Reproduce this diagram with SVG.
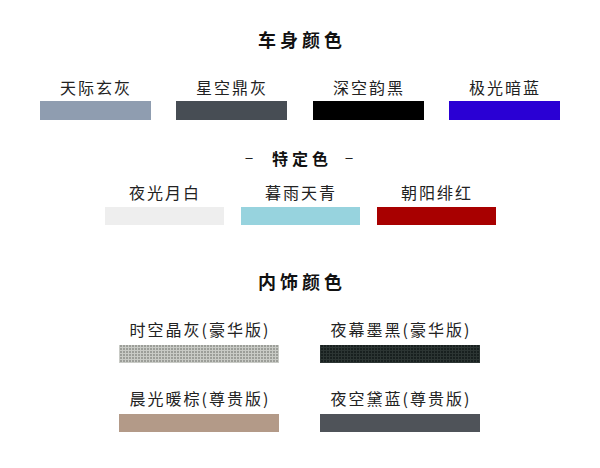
<svg xmlns="http://www.w3.org/2000/svg" width="600" height="468" viewBox="0 0 600 468">
<style>
.t{font-family:"Noto Sans CJK SC",sans-serif;font-size:18px;font-weight:bold;fill:#111;text-anchor:middle;letter-spacing:4px}
.l{font-family:"Noto Sans CJK SC",sans-serif;font-size:16px;fill:#222;text-anchor:middle;letter-spacing:2px}
</style>
<defs>
<pattern id="pg" width="3" height="3" patternUnits="userSpaceOnUse"><rect width="3" height="3" fill="#c9cbc6"/><rect width="2" height="2" fill="#9c9e99"/></pattern>
<pattern id="pd" width="3" height="3" patternUnits="userSpaceOnUse"><rect width="3" height="3" fill="#2c3533"/><rect width="2" height="2" fill="#18201f"/></pattern>
</defs>
<rect width="600" height="468" fill="#fff"/>
<text class="t" x="302" y="47">车身颜色</text>
<g id="c1"><text class="l" x="96" y="94">天际玄灰</text><rect x="40" y="101" width="111" height="19" fill="#8f9db0"/></g>
<g id="c2"><text class="l" x="232" y="94">星空鼎灰</text><rect x="176" y="101" width="111" height="19" fill="#474d54"/></g>
<g id="c3"><text class="l" x="369" y="94">深空韵黑</text><rect x="313" y="101" width="111" height="19" fill="#000"/></g>
<g id="c4"><text class="l" x="505" y="94">极光暗蓝</text><rect x="449" y="101" width="111" height="19" fill="#2a00d4"/></g>
<text class="t" x="302" y="165" style="font-size:16px">特定色</text>
<text class="l" x="250" y="163">–</text><text class="l" x="350" y="163">–</text>
<g id="s1"><text class="l" x="165" y="199">夜光月白</text><rect x="105" y="207" width="119" height="18" fill="#eeeeee"/></g>
<g id="s2"><text class="l" x="301" y="199">暮雨天青</text><rect x="241" y="207" width="119" height="18" fill="#97d3de"/></g>
<g id="s3"><text class="l" x="437" y="199">朝阳绯红</text><rect x="377" y="207" width="119" height="18" fill="#a80000"/></g>
<text class="t" x="302" y="289">内饰颜色</text>
<g id="i1"><text class="l" x="200" y="336">时空晶灰(豪华版)</text><rect x="119" y="345" width="160" height="18" fill="url(#pg)"/></g>
<g id="i2"><text class="l" x="401" y="336">夜幕墨黑(豪华版)</text><rect x="320" y="345" width="160" height="18" fill="url(#pd)"/></g>
<g id="i3"><text class="l" x="200" y="405">晨光暖棕(尊贵版)</text><rect x="119" y="414" width="160" height="18" fill="#b39a88"/></g>
<g id="i4"><text class="l" x="401" y="405">夜空黛蓝(尊贵版)</text><rect x="320" y="414" width="160" height="18" fill="#4f5359"/></g>
<g id="connectors"/>
</svg>
